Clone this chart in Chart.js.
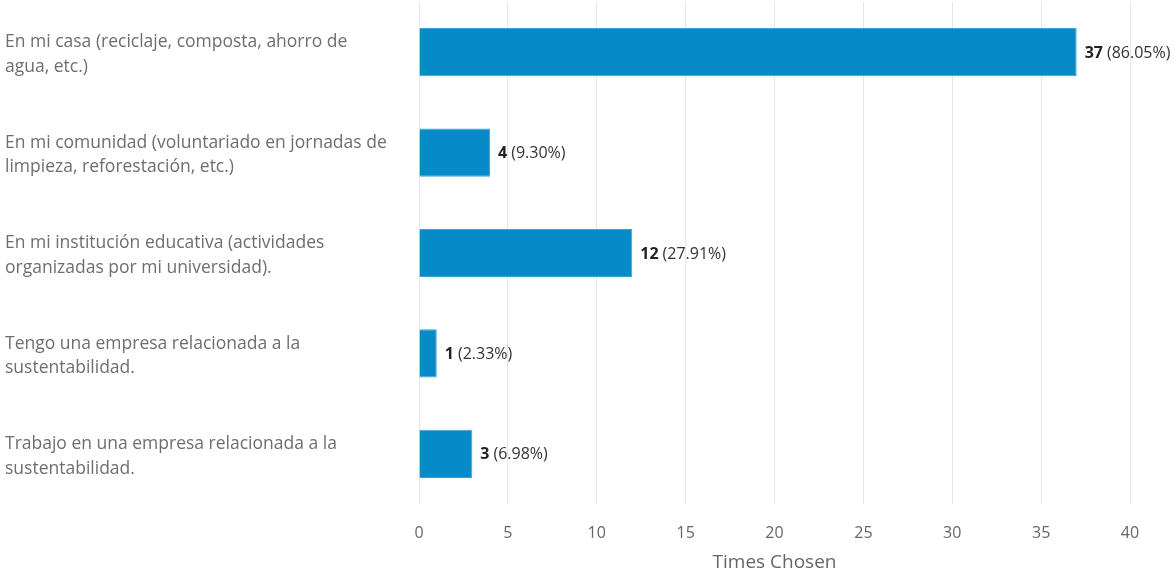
<!DOCTYPE html>
<html>
<head>
<meta charset="utf-8">
<title>Times Chosen</title>
<script src="https://cdn.jsdelivr.net/npm/chart.js@4.4.1/dist/chart.umd.min.js"></script>
<style>
  html, body { margin: 0; padding: 0; background: #fff; }
  #wrap { width: 1175px; height: 571px; }
</style>
</head>
<body>
<div id="wrap"><canvas id="chart"></canvas></div>
<script>
const categories = [
    ['En mi casa (reciclaje, composta, ahorro de', 'agua, etc.)'],
    ['En mi comunidad (voluntariado en jornadas de', 'limpieza, reforestación, etc.)'],
    ['En mi institución educativa (actividades', 'organizadas por mi universidad).'],
    ['Tengo una empresa relacionada a la', 'sustentabilidad.'],
    ['Trabajo en una empresa relacionada a la', 'sustentabilidad.']
];
const counts = [37, 4, 12, 1, 3];
const percents = ['86.05%', '9.30%', '27.91%', '2.33%', '6.98%'];
const xTicks = [0, 5, 10, 15, 20, 25, 30, 35, 40];

const FONT = "'Open Sans', 'Noto Sans', sans-serif";

// writes "37 (86.05%)" next to each bar, count in bold
const valueLabels = {
    id: 'valueLabels',
    afterDatasetsDraw(chart) {
        const ctx = chart.ctx;
        const meta = chart.getDatasetMeta(0);
        ctx.save();
        ctx.textBaseline = 'middle';
        ctx.textAlign = 'left';
        meta.data.forEach((bar, i) => {
            let x = bar.x + 8;
            const y = bar.y + 1;
            ctx.font = 'bold 16px ' + FONT;
            ctx.fillStyle = '#222';
            const num = String(counts[i]);
            ctx.fillText(num, x, y);
            x += ctx.measureText(num).width + 4;
            ctx.font = '16px ' + FONT;
            ctx.fillStyle = '#333';
            ctx.fillText('(' + percents[i] + ')', x, y);
        });
        ctx.restore();
    }
};

new Chart(document.getElementById('chart'), {
    type: 'bar',
    data: {
        labels: categories,
        datasets: [{
            data: counts,
            backgroundColor: '#078bc8',
            borderColor: '#3aa3d6',
            borderWidth: 1,
            barPercentage: 0.48,
            categoryPercentage: 1
        }]
    },
    options: {
        indexAxis: 'y',
        responsive: true,
        maintainAspectRatio: false,
        animation: false,
        layout: { padding: { left: 5, right: 45, top: 2, bottom: 0 } },
        plugins: {
            legend: { display: false },
            tooltip: { enabled: false }
        },
        scales: {
            x: {
                min: 0,
                max: 40,
                afterBuildTicks: s => { s.ticks = xTicks.map(v => ({ value: v })); },
                afterFit: s => { s.height = 67; },
                grid: { color: '#e6e6e6', lineWidth: 1, drawTicks: false },
                border: { display: false },
                ticks: {
                    padding: 20,
                    color: '#666',
                    font: { family: FONT, size: 16 }
                },
                title: {
                    display: true,
                    text: 'Times Chosen',
                    color: '#666',
                    font: { family: FONT, size: 19, lineHeight: 0.85 },
                    padding: { top: 6, bottom: 0 }
                }
            },
            y: {
                // fixed label column; no extra room above/below for the wrapped labels
                afterFit: s => { s.width = 414; s.paddingTop = 0; s.paddingBottom = 0; },
                grid: { display: false },
                border: { display: false },
                ticks: {
                    crossAlign: 'far',
                    color: '#6e6e6e',
                    padding: 0,
                    labelOffset: 2.5,
                    font: { family: FONT, size: 17.5, lineHeight: 1.4 }
                }
            }
        }
    },
    plugins: [valueLabels]
});
</script>
</body>
</html>
